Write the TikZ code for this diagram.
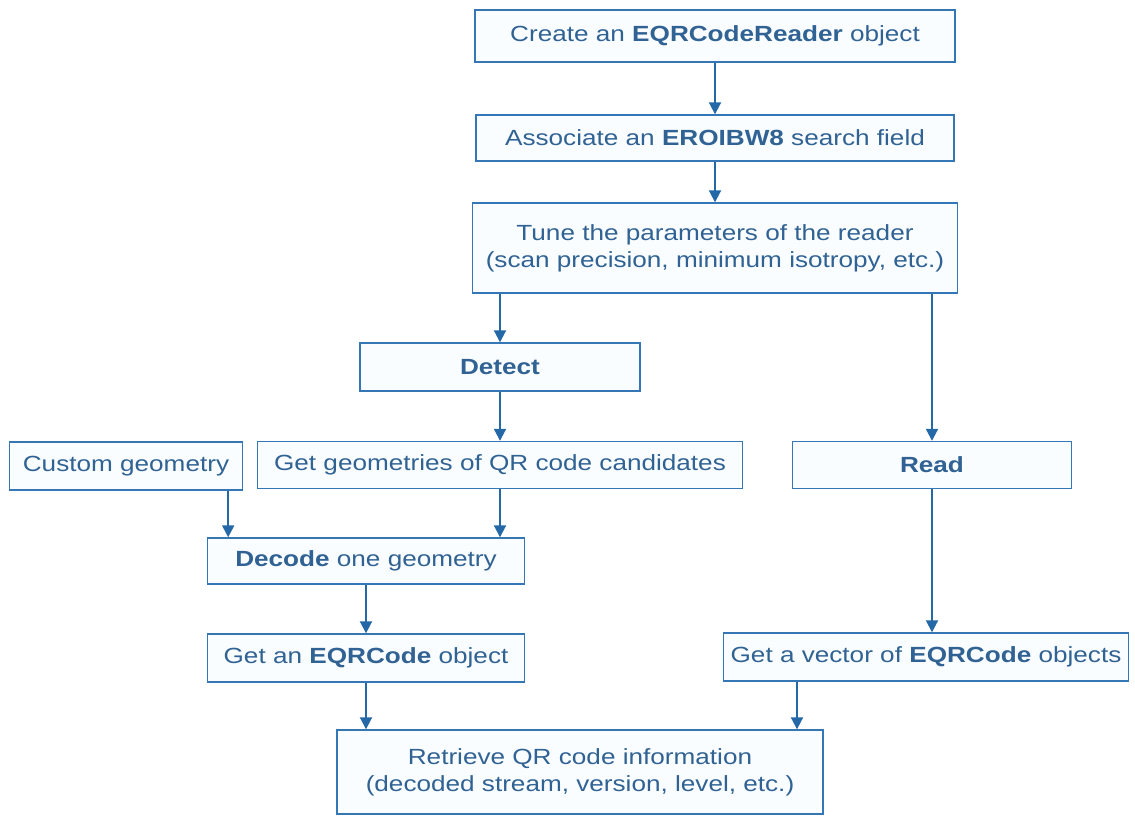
\documentclass[tikz,border=0pt]{standalone}
\usepackage{fontspec}
\setmainfont[FakeStretch=1.19]{Liberation Sans}
\usetikzlibrary{arrows.meta}
\definecolor{qrline}{RGB}{52,118,182}
\definecolor{qrarrow}{RGB}{36,104,168}
\definecolor{qrtext}{RGB}{48,98,148}
\definecolor{qrfill}{RGB}{250,253,255}
\tikzset{
    qr flow/.style  = {>={Triangle[length=2.4mm, width=2.4mm]}},
    box/.style      = {draw=qrline, line width=0.8pt, fill=qrfill,
                       text=qrtext, font=\fontsize{12.5}{15.5}\selectfont,
                       inner sep=0pt, align=center},
    link/.style     = {->, draw=qrarrow, line width=1.1pt}
}

\begin{document}
\begin{tikzpicture}[qr flow, x=0.02cm, y=-0.02cm]
\useasboundingbox (0,0) rectangle (1135,817);

% Reader setup
\node[box, minimum width=9.6cm, minimum height=1.04cm] (create) at (715,36)
    {Create an \textbf{EQRCodeReader} object};
\node[box, minimum width=9.56cm, minimum height=0.92cm] (assoc) at (715,138)
    {Associate an \textbf{EROIBW8} search field};
\node[box, minimum width=9.7cm, minimum height=1.8cm] (tune) at (715,248)
    {Tune the parameters of the reader\\(scan precision, minimum isotropy, etc.)};

% Detect branch
\node[box, minimum width=5.6cm, minimum height=0.96cm] (detect) at (500,367)
    {\textbf{Detect}};
\node[box, minimum width=4.66cm, minimum height=0.96cm] (custom) at (126,466)
    {Custom geometry};
\node[box, minimum width=9.7cm, minimum height=0.94cm] (getgeom) at (500,465)
    {Get geometries of QR code candidates};
\node[box, minimum width=6.34cm, minimum height=0.92cm] (decode) at (366,561)
    {\textbf{Decode} one geometry};
\node[box, minimum width=6.34cm, minimum height=0.96cm] (getcode) at (366,658)
    {Get an \textbf{EQRCode} object};

% Read branch
\node[box, minimum width=5.58cm, minimum height=0.94cm] (read) at (932,465)
    {\textbf{Read}};
\node[box, minimum width=8.1cm, minimum height=0.96cm] (getvec) at (926,657)
    {Get a vector of \textbf{EQRCode} objects};

% Result
\node[box, minimum width=9.72cm, minimum height=1.68cm] (retrieve) at (580,772)
    {Retrieve QR code information\\(decoded stream, version, level, etc.)};

% Connectors
\draw[link] (create) -- (assoc);
\draw[link] (assoc) -- (tune);
\draw[link] (tune.south -| detect) -- (detect);
\draw[link] (tune.south -| read) -- (read);
\draw[link] (detect) -- (getgeom);
\draw[link] ([xshift=-0.3cm]custom.south east) -- ([xshift=-0.3cm]custom.south east |- decode.north);
\draw[link] (getgeom.south -| detect) -- (decode.north -| detect);
\draw[link] (decode.south -| getcode) -- (getcode);
\draw[link] (read) -- (read |- getvec.north);
\draw[link] (getcode) -- (getcode |- retrieve.north);
\draw[link] (getvec.south -| 797,0) -- (retrieve.north -| 797,0);

\end{tikzpicture}
\end{document}
